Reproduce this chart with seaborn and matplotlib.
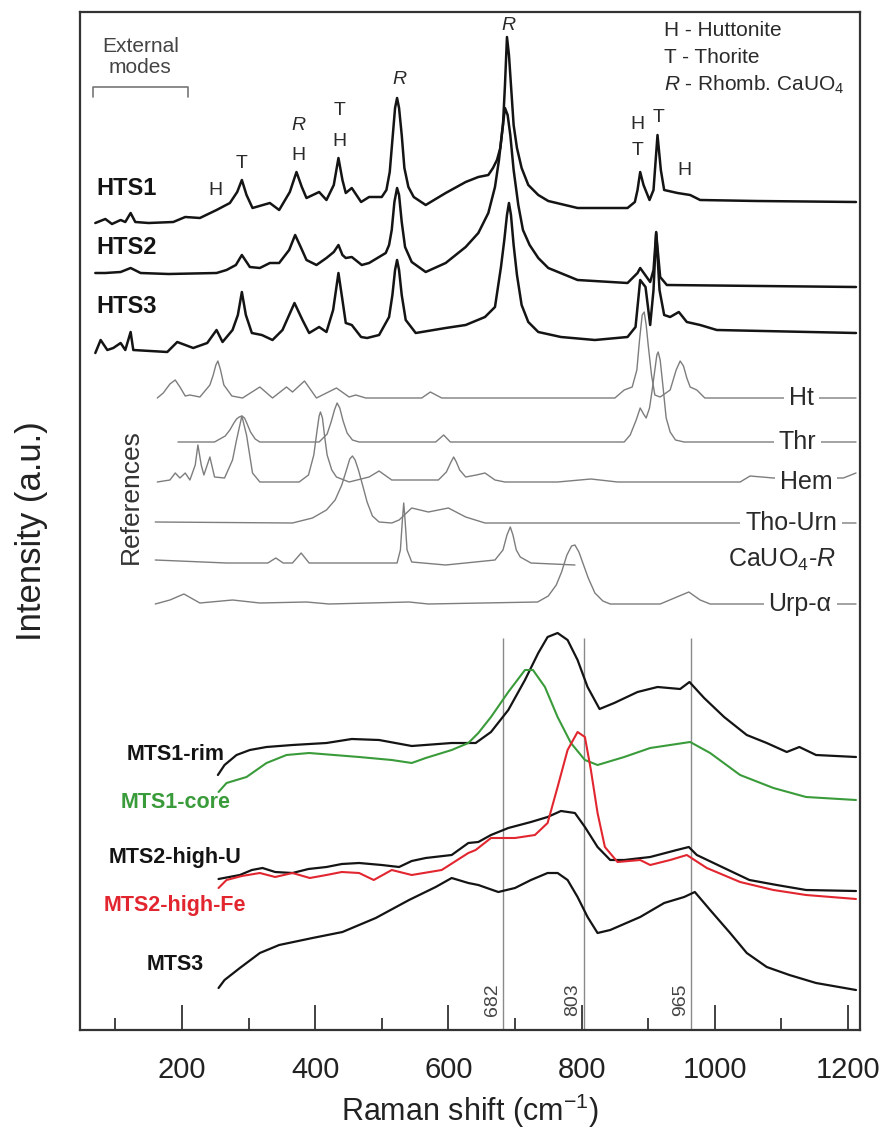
import matplotlib
matplotlib.use("Agg")
import matplotlib.pyplot as plt
import seaborn as sns

# ---------------- spectra: Raman shift (cm-1) and stacked intensity (a.u.) ----------------
hts1_shift = [70, 85, 95, 108, 115, 123, 130, 150, 187, 205, 227, 252, 272, 283, 290, 297, 306, 332, 346, 362,
              372, 380, 387, 406, 417, 428, 435, 441, 446, 455, 469, 481, 500, 507, 512, 516, 520, 523, 526, 530,
              534, 540, 548, 566, 596, 626, 645, 660, 667, 673, 678, 682, 685, 688, 691, 694, 698, 703, 710, 720,
              735, 750, 794, 869, 880, 884, 888, 893, 902, 908, 914, 919, 924, 944, 963, 978, 1063, 1212]
hts1_int = [807, 811, 806, 810, 808, 817, 808, 807, 808, 813, 812, 820, 827, 838, 850, 835, 822, 827, 820, 838,
            858, 843, 832, 838, 830, 845, 872, 850, 837, 842, 828, 833, 833, 840, 858, 890, 922, 932, 922, 895,
            862, 843, 833, 825, 837, 848, 853, 855, 862, 870, 882, 905, 945, 993, 975, 945, 905, 882, 862, 845,
            835, 829, 822, 822, 828, 840, 858, 845, 830, 840, 895, 860, 840, 837, 835, 830, 829, 828]

hts2_shift = [70, 85, 108, 123, 138, 180, 252, 267, 281, 290, 302, 317, 332, 346, 361, 370, 379, 387, 402, 417,
              428, 435, 441, 446, 455, 470, 481, 506, 511, 515, 519, 523, 526, 530, 535, 545, 566, 596, 626, 645,
              660, 670, 676, 681, 685, 689, 693, 698, 705, 712, 722, 735, 750, 794, 869, 884, 888, 903, 908, 912,
              918, 928, 1212]
hts2_int = [757, 757, 758, 762, 757, 756, 757, 760, 765, 775, 763, 762, 767, 767, 780, 795, 782, 770, 765, 772,
            778, 785, 775, 772, 773, 765, 767, 777, 785, 800, 828, 842, 835, 808, 783, 768, 758, 767, 783, 797,
            817, 843, 870, 900, 922, 915, 895, 860, 825, 800, 785, 772, 762, 750, 747, 757, 762, 748, 760, 797,
            753, 745, 743]

hts3_shift = [70, 78, 88, 97, 108, 115, 123, 127, 178, 193, 217, 238, 252, 261, 276, 284, 290, 296, 305, 320,
              336, 351, 369, 381, 391, 406, 417, 427, 435, 441, 446, 455, 469, 478, 496, 511, 516, 520, 523, 526,
              530, 536, 551, 596, 626, 655, 670, 679, 684, 688, 691, 694, 698, 703, 710, 720, 735, 769, 820, 869,
              881, 888, 896, 903, 908, 912, 917, 924, 933, 946, 958, 978, 1003, 1212]
hts3_int = [677, 690, 680, 682, 687, 680, 698, 680, 678, 688, 682, 687, 700, 688, 700, 715, 738, 715, 697, 695,
            690, 700, 727, 710, 697, 703, 698, 720, 757, 730, 707, 705, 693, 692, 695, 713, 735, 760, 770, 760,
            735, 710, 697, 702, 705, 713, 723, 763, 790, 815, 827, 815, 785, 755, 725, 708, 698, 693, 690, 693,
            703, 750, 743, 705, 740, 798, 740, 715, 713, 718, 708, 705, 700, 697]

# reference spectra
ht_shift = [163, 172, 182, 190, 197, 205, 212, 227, 242, 247, 251, 254, 258, 263, 275, 291, 317, 336, 357, 366,
            384, 402, 432, 451, 461, 476, 560, 573, 590, 850, 864, 876, 883, 887, 891, 894, 897, 900, 905, 910,
            918, 933, 942, 948, 953, 958, 963, 973, 985, 1212]
ht_int = [632, 637, 646, 650, 643, 634, 635, 633, 645, 655, 665, 669, 660, 645, 634, 632, 643, 632, 643, 638,
          649, 632, 642, 633, 635, 632, 632, 638, 632, 632, 640, 643, 660, 690, 715, 718, 705, 685, 655, 635,
          633, 640, 660, 669, 664, 652, 643, 640, 632, 632]

thr_shift = [194, 249, 265, 272, 278, 282, 286, 290, 294, 298, 303, 310, 317, 406, 418, 424, 429, 433, 437, 442,
             448, 456, 466, 581, 593, 603, 864, 873, 882, 888, 893, 897, 902, 906, 910, 913, 915, 918, 922, 927,
             933, 941, 954, 1212]
thr_int = [588, 588, 594, 600, 607, 611, 613, 614, 612, 606, 598, 591, 588, 588, 596, 608, 620, 627, 622, 609,
           597, 590, 588, 588, 595, 588, 588, 595, 610, 622, 616, 612, 622, 640, 660, 675, 678, 670, 645, 612,
           598, 590, 588, 588]

hem_shift = [163, 182, 190, 197, 205, 212, 220, 224, 229, 233, 242, 249, 264, 276, 282, 290, 297, 306, 317, 376,
             390, 398, 403, 406, 408, 411, 414, 418, 425, 432, 451, 481, 496, 515, 585, 597, 604, 608, 612, 617,
             626, 642, 655, 670, 685, 764, 814, 854, 1038, 1053, 1088, 1193, 1212]
hem_int = [548, 550, 557, 552, 557, 550, 565, 585, 565, 555, 573, 553, 552, 570, 590, 614, 595, 557, 548, 548,
           555, 575, 600, 614, 618, 612, 595, 575, 560, 553, 548, 553, 559, 550, 550, 558, 568, 573, 568, 560,
           553, 555, 557, 550, 548, 548, 551, 548, 548, 554, 552, 552, 557]

thourn_shift = [160, 366, 396, 417, 430, 440, 447, 452, 456, 460, 465, 472, 478, 486, 496, 515, 526, 545, 570,
                600, 626, 655, 1212]
thourn_int = [508, 507, 512, 520, 530, 545, 560, 571, 574, 570, 560, 543, 528, 514, 508, 507, 510, 522, 518,
              522, 513, 507, 507]

cauo4_shift = [160, 267, 329, 341, 352, 366, 379, 391, 523, 528, 531, 533, 535, 538, 545, 596, 670, 682, 688,
               693, 697, 702, 708, 724, 790]
cauo4_int = [470, 467, 467, 472, 467, 467, 477, 467, 467, 480, 510, 527, 510, 480, 468, 465, 470, 480, 495,
             503, 495, 480, 473, 467, 465]

urp_shift = [160, 182, 203, 227, 276, 317, 387, 421, 541, 570, 734, 750, 762, 770, 778, 785, 790, 796, 803, 810,
             820, 832, 843, 918, 943, 961, 978, 993, 1212]
urp_int = [426, 430, 436, 427, 430, 427, 428, 426, 428, 426, 428, 434, 445, 458, 475, 484, 485, 478, 465, 452,
           437, 429, 426, 426, 433, 438, 430, 426, 426]

# metamict samples
mts1rim_shift = [254, 264, 282, 302, 327, 366, 417, 455, 496, 545, 605, 641, 664, 690, 715, 735, 749, 764, 779,
                 794, 809, 827, 849, 884, 914, 948, 962, 984, 1014, 1048, 1078, 1108, 1127, 1152, 1212]
mts1rim_int = [255, 265, 275, 280, 283, 285, 287, 291, 290, 284, 287, 287, 298, 320, 350, 377, 393, 397, 390,
               370, 343, 321, 327, 338, 343, 341, 348, 332, 313, 295, 287, 278, 283, 275, 273]

mts1core_shift = [255, 267, 297, 327, 357, 391, 466, 515, 545, 566, 605, 630, 645, 664, 690, 715, 727, 745, 764,
                  784, 805, 824, 864, 903, 963, 993, 1038, 1088, 1137, 1212]
mts1core_int = [238, 247, 253, 267, 275, 277, 273, 270, 267, 272, 280, 287, 297, 313, 338, 360, 360, 343, 313,
                287, 270, 265, 273, 282, 288, 277, 255, 242, 233, 230]

mts2u_shift = [255, 287, 305, 321, 340, 366, 390, 417, 440, 466, 500, 526, 545, 566, 605, 630, 645, 664, 690,
               724, 749, 769, 790, 805, 824, 843, 864, 903, 943, 961, 973, 1014, 1052, 1093, 1137, 1212]
mts2u_int = [151, 155, 160, 162, 158, 157, 161, 163, 166, 167, 165, 163, 169, 172, 175, 187, 188, 195, 202,
             208, 213, 219, 217, 203, 183, 170, 170, 173, 180, 183, 175, 162, 150, 145, 140, 139]

mts2fe_shift = [255, 267, 290, 317, 340, 366, 392, 417, 440, 466, 488, 515, 545, 590, 630, 641, 664, 700, 730,
                749, 764, 779, 794, 805, 814, 824, 835, 854, 888, 903, 933, 958, 988, 1038, 1088, 1137, 1212]
mts2fe_int = [142, 150, 154, 157, 153, 157, 152, 155, 158, 157, 150, 160, 155, 160, 177, 180, 192, 192, 195,
              207, 243, 280, 298, 293, 260, 217, 183, 168, 170, 165, 170, 175, 162, 148, 140, 135, 131]

mts3_shift = [255, 264, 287, 317, 346, 396, 441, 491, 541, 581, 605, 630, 645, 675, 700, 724, 749, 764, 779,
              794, 809, 824, 843, 888, 924, 954, 970, 993, 1023, 1048, 1078, 1112, 1152, 1212]
mts3_int = [42, 50, 62, 77, 85, 92, 98, 112, 130, 143, 152, 147, 145, 138, 142, 150, 157, 157, 150,
            133, 113, 97, 100, 113, 127, 133, 138, 120, 97, 77, 63, 55, 47, 40]

# band positions marked on the metamict spectra
band_positions = [682, 803, 965]
band_top = 392

# labels
sample_names = ["HTS1", "HTS2", "HTS3"]
sample_label_y = [842, 783, 724]
ref_names = ["Ht", "Thr", "Hem", "Tho-Urn", "CaUO$_4$-$\\mathit{R}$", "Urp-α"]
ref_label_xy = [(1130, 632), (1124, 588), (1137, 548), (1115, 507), (1100, 470), (1128, 426)]
mts_names = ["MTS1-rim", "MTS1-core", "MTS2-high-U", "MTS2-high-Fe", "MTS3"]
mts_label_y = [276, 228, 172, 124, 65]
peak_marks = [("H", 251, 840, False), ("T", 290, 867, False), ("R", 375, 905, True), ("H", 375, 875, False),
              ("T", 436, 920, False), ("H", 436, 889, False), ("R", 526, 950, True), ("R", 690, 1005, True),
              ("H", 884, 906, False), ("T", 884, 880, False), ("T", 915, 913, False), ("H", 954, 860, False)]
key_lines = ["H - Huttonite", "T - Thorite", "$\\mathit{R}$ - Rhomb. CaUO$_4$"]
external_range = (66, 209)

# ---------------- style ----------------
sns.set_style("ticks")
plt.rcParams["font.family"] = ["Liberation Sans", "DejaVu Sans"]
plt.rcParams["mathtext.fontset"] = "custom"
plt.rcParams["mathtext.rm"] = "Liberation Sans"
plt.rcParams["mathtext.it"] = "Liberation Sans:italic"
plt.rcParams["mathtext.bf"] = "Liberation Sans:bold"

BLACK = "#141414"
GREY = "#7d7d7d"
GREEN = "#3a9b3a"
RED = "#e2262f"

fig = plt.figure(figsize=(8.85, 11.33), dpi=100)
ax = fig.add_axes([80 / 885, 103 / 1133, 780 / 885, 1018 / 1133])


def draw(shift, inten, color, lw, z=2):
    sns.lineplot(x=shift, y=inten, ax=ax, color=color, linewidth=lw,
                 estimator=None, sort=False, zorder=z)


# sample spectra
for s, i in [(hts1_shift, hts1_int), (hts2_shift, hts2_int), (hts3_shift, hts3_int)]:
    draw(s, i, BLACK, 1.8)

# references
for s, i in [(ht_shift, ht_int), (thr_shift, thr_int), (hem_shift, hem_int),
             (thourn_shift, thourn_int), (cauo4_shift, cauo4_int), (urp_shift, urp_int)]:
    draw(s, i, GREY, 1.0)

# metamict spectra
ax.vlines(band_positions, 0, band_top, color="#8a8a8a", lw=1.0, zorder=1)
draw(mts1rim_shift, mts1rim_int, BLACK, 1.6)
draw(mts1core_shift, mts1core_int, GREEN, 1.5)
draw(mts2u_shift, mts2u_int, BLACK, 1.6)
draw(mts2fe_shift, mts2fe_int, RED, 1.5, z=3)
draw(mts3_shift, mts3_int, BLACK, 1.6)

# ---------------- axes ----------------
ax.set_xlim(47, 1218)
ax.set_ylim(0, 1018)
ax.set_xticks(range(200, 1201, 200))
ax.set_xticks(range(100, 1101, 200), minor=True)
ax.set_yticks([])
ax.tick_params(axis="x", which="major", direction="in", length=18, width=1.2,
               labelsize=21, pad=19, colors="#222222", bottom=True, top=False)
ax.tick_params(axis="x", which="minor", direction="in", length=9, width=1.2,
               color="#222222", bottom=True, top=False)
for sp in ax.spines.values():
    sp.set_color("#333333")
    sp.set_linewidth(1.6)
ax.set_xlabel("Raman shift (cm$^{-1}$)", fontsize=22, labelpad=5, color="#222222")
ax.set_ylabel("Intensity (a.u.)", fontsize=25, color="#222222")
ax.yaxis.set_label_coords(-32 / 780, 0.49)

# ---------------- annotations ----------------
for name, y in zip(sample_names, sample_label_y):
    ax.text(72, y, name, fontsize=17, fontweight="bold", ha="left", va="center", color=BLACK)

for name, (x, y) in zip(ref_names, ref_label_xy):
    ax.text(x, y, name, fontsize=18, ha="center", va="center", color="#2a2a2a", zorder=5,
            bbox=dict(boxstyle="square,pad=0.2", fc="white", ec="none"))

ax.text(124, 533, "References", rotation=90, fontsize=19, ha="center", va="center", color="#333333")

mts_colors = [BLACK, GREEN, BLACK, RED, BLACK]
for name, y, c in zip(mts_names, mts_label_y, mts_colors):
    ax.text(190, y, name, fontsize=15.5, fontweight="bold", ha="center", va="center", color=c)

for v in band_positions:
    ax.text(v - 16, 30, str(v), rotation=90, fontsize=14, ha="center", va="center", color="#444444")

for txt, x, y, ital in peak_marks:
    ax.text(x, y, txt, fontsize=14, ha="center", va="center", color="#2a2a2a",
            fontstyle="italic" if ital else "normal")

for k, line in enumerate(key_lines):
    ax.text(924, 1000 - 27.5 * k, line, fontsize=15, ha="left", va="center", color="#2a2a2a")

ax.text(sum(external_range) / 2, 973, "External\nmodes", fontsize=15, ha="center", va="center",
        color="#444444", linespacing=1.15)
x0, x1 = external_range
ax.plot([x0, x0, x1, x1], [933, 943, 943, 933], color="#777777", lw=1.2)

fig.savefig("out.png", dpi=100)
